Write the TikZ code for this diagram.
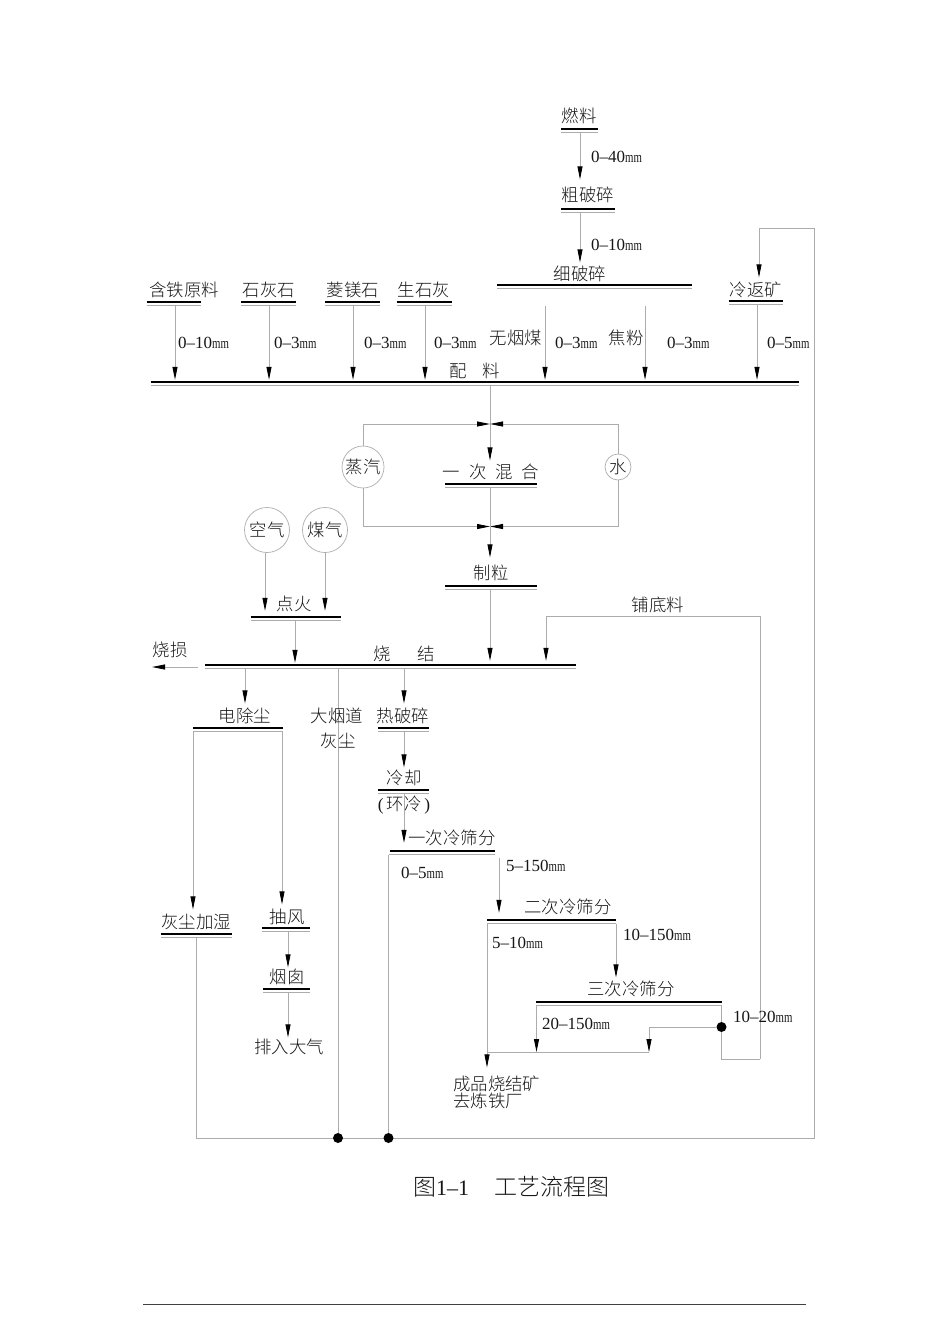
\documentclass[tikz,border=0pt]{standalone}
\usepackage{fontspec}
\usepackage{graphicx}
\usetikzlibrary{arrows.meta,calc}
\setmainfont{Liberation Serif}
\newfontfamily\cjk{Noto Sans CJK SC Light}
\definecolor{linegray}{HTML}{ACACAC}
\definecolor{inkc}{HTML}{161616}
\pgfdeclarelayer{wires}
\pgfsetlayers{wires,main}
\tikzset{
  lab/.style={inner sep=0pt,yshift=-.6pt,text=inkc,font=\cjk\fontsize{17.4}{18}\selectfont,text height=14pt,text depth=2pt,align=center},
  size/.style={inner sep=0pt,anchor=west,text=inkc,font=\fontsize{17}{18}\selectfont,text height=12pt,text depth=0pt},
  barbox/.style={inner sep=0pt,minimum height=3.5pt,rectangle},
  barthick/.style={draw=black,line width=2.4pt},
  barthin/.style={draw=linegray,line width=.9pt},
  conn/.style={draw=linegray,line width=.8pt,-{Stealth[black,length=13pt,width=5pt,inset=0pt]},shorten >=2pt},
  wire/.style={draw=linegray,line width=.8pt},
  src/.style={circle,draw=linegray,line width=.7pt,inner sep=0pt,text=inkc,font=\cjk\fontsize{17.4}{18}\selectfont},
  dot/.style={circle,fill=black,inner sep=0pt,minimum size=10pt},
}
\newcommand\barnode[4]{%
  \node[barbox,minimum width={#3-#2}] (#1) at ({(#2+#3)/2},#4+1.75) {};
  \draw[barthick] (#1.north west) -- (#1.north east);
  \draw[barthin] (#1.south west) -- (#1.south east);
}
\newcommand\mmt[1]{#1\scalebox{.72}[1]{\fontsize{15}{16}\selectfont mm}}
\begin{document}
\begin{tikzpicture}[x=1pt,y=-1pt]
\useasboundingbox (0,0) rectangle (950,1344);
% source labels and bars
\node[lab] (lfuel) at (579,116) {燃料};
\barnode{bfuel}{561}{598}{129}
\node[size] (s040) at (591,156) {\mmt{0–40}};
\node[lab] (lcoarse) at (588,195) {粗破碎};
\barnode{bcoarse}{561}{615}{209}
\node[size] (s010b) at (591,244) {\mmt{0–10}};
\node[lab] (lfine) at (580,274) {细破碎};
\barnode{bfine}{497}{692}{285}
\node[lab] (lret) at (756,290) {冷返矿};
\barnode{bret}{729}{783}{301}
\node[lab] (liron) at (184,290) {含铁原料};
\barnode{biron}{147}{201}{302}
\node[lab] (llime) at (269,290) {石灰石};
\barnode{blime}{241}{296}{302}
\node[lab] (lmag) at (353,290) {菱镁石};
\barnode{bmag}{325}{380}{302}
\node[lab] (lquick) at (424,290) {生石灰};
\barnode{bquick}{397}{452}{302}
\node[lab] (lanth) at (516,338) {无烟煤};
\node[lab] (lcoke) at (626,338) {焦粉};
\node[size] (s010) at (178,342) {\mmt{0–10}};
\node[size] (s03a) at (274,342) {\mmt{0–3}};
\node[size] (s03b) at (364,342) {\mmt{0–3}};
\node[size] (s03c) at (434,342) {\mmt{0–3}};
\node[size] (s03d) at (555,342) {\mmt{0–3}};
\node[size] (s03e) at (667,342) {\mmt{0–3}};
\node[size] (s05) at (767,342) {\mmt{0–5}};
\node[lab] (lmix) at (475,371) {配\hspace{16pt}料};
\barnode{bmain}{151}{799}{382}
\coordinate (anthtop) at (545,306);
\coordinate (coketop) at (645,306);
% first mixing
\node[src,minimum size=42pt] (steam) at (363,467) {蒸汽};
\node[src,minimum size=26pt] (water) at (618,467) {水};
\node[lab] (lmix1) at (491,472) {一\hspace{9pt}次\hspace{9pt}混\hspace{9pt}合};
\barnode{bmix1}{445}{537}{484}
\node[lab] (lgran) at (491,573) {制粒};
\barnode{bgran}{445}{537}{586}
\coordinate (j1) at (490,424);
\coordinate (j2) at (490,526.5);
% ignition
\node[src,minimum size=45pt] (air) at (267,530) {空气};
\node[src,minimum size=45pt] (gas) at (325,530) {煤气};
\node[lab] (lign) at (294,604) {点火};
\barnode{bign}{251}{341}{617}
\node[lab] (lbed) at (658,605) {铺底料};
\node[lab] (lsint) at (404,654) {烧\hspace{26pt}结};
\barnode{bsint}{205}{576}{665}
\node[lab] (lloss) at (170,650) {烧损};
\coordinate (lossstart) at (198,667);
\coordinate (lossend) at (152,667);
% lower left
\node[lab] (lesp) at (245,716) {电除尘};
\barnode{besp}{193}{283}{728}
\node[lab] (lflue) at (337,716) {大烟道};
\node[lab] (lflue2) at (338,741) {灰尘};
\node[lab] (lhot) at (403,716) {热破碎};
\barnode{bhot}{378}{429}{728}
\node[lab] (lcool) at (404,778) {冷却};
\barnode{bcool}{378}{429}{790}
\node[lab] (lring) at (404,804) {{\rmfamily(}\hspace{3pt}环冷\hspace{3pt}{\rmfamily)}};
\node[lab] (ls1) at (452,838) {一次冷筛分};
\barnode{bs1}{390}{495}{851}
\node[size] (s05b) at (401,872) {\mmt{0–5}};
\node[size] (s5150) at (506,865) {\mmt{5–150}};
\coordinate (s1right) at (499,858);
\node[lab] (ls2) at (568,907) {二次冷筛分};
\barnode{bs2}{487}{616}{920}
\node[size] (s510) at (492,942) {\mmt{5–10}};
\node[size] (s10150) at (623,934) {\mmt{10–150}};
\node[lab] (ls3) at (631,989) {三次冷筛分};
\barnode{bs3}{536}{722}{1002}
\node[size] (s20150) at (542,1023) {\mmt{20–150}};
\node[size] (s1020) at (733,1016) {\mmt{10–20}};
\node[lab] (lwet) at (196,922) {灰尘加湿};
\barnode{bwet}{161}{232}{934}
\node[lab] (lfan) at (287,917) {抽风};
\barnode{bfan}{262}{310}{928}
\node[lab] (lchim) at (287,977) {烟囱};
\barnode{bchim}{263}{310}{989}
\node[lab] (lair) at (289,1047) {排入大气};
\node[lab,anchor=west] (lprod1) at (453,1084) {成品烧结矿};
\node[lab,anchor=west] (lprod2) at (453,1101) {去炼铁厂};
\node[dot] (d1) at (338,1138) {};
\node[dot] (d2) at (388.5,1138) {};
\node[dot] (d3) at (721.5,1027) {};
\coordinate (jl) at (487,1052);
\coordinate (jr) at (649,1052);
\coordinate (corner1) at (814,1138);
\coordinate (corner2) at (814,228);
\coordinate (corner3) at (196,1138);
\coordinate (corner4) at (721.5,1059);
\coordinate (corner5) at (760,1059);
\coordinate (corner6) at (760,616);
\begin{pgfonlayer}{wires}
% upper connectors
\draw[conn,shorten >=8pt] (580,0 |- bfuel.south) -- (580,0 |- lcoarse.north);
\draw[conn,shorten >=4pt] (580,0 |- bcoarse.south) -- (580,0 |- lfine.north);
\draw[conn,shorten >=5pt] (corner2) -- (759,228) -- (759,0 |- lret.north);
\draw[conn] (175,0 |- biron.south) -- (175,0 |- bmain.north);
\draw[conn] (269,0 |- blime.south) -- (269,0 |- bmain.north);
\draw[conn] (353,0 |- bmag.south) -- (353,0 |- bmain.north);
\draw[conn] (425,0 |- bquick.south) -- (425,0 |- bmain.north);
\draw[conn] (anthtop) -- (545,0 |- bmain.north);
\draw[conn] (coketop) -- (645,0 |- bmain.north);
\draw[conn] (757,0 |- bret.south) -- (757,0 |- bmain.north);
% mixing
\draw[conn,shorten >=4pt] (490,0 |- bmain.south) -- (490,0 |- lmix1.north);
\draw[conn,shorten >=0pt] (steam.north) |- (j1);
\draw[conn,shorten >=0pt] (water.north) |- (j1);
\draw[conn,shorten >=0pt] (steam.south) |- (j2);
\draw[conn,shorten >=0pt] (water.south) |- (j2);
\draw[conn,shorten >=8pt] (490,0 |- bmix1.south) -- (490,0 |- lgran.north);
\draw[conn,shorten >=4pt] (490,0 |- bgran.south) -- (490,0 |- bsint.north);
% ignition
\draw[conn,shorten >=6pt] (265,0 |- air.south) -- (265,0 |- bign.north);
\draw[conn,shorten >=6pt] (325,0 |- gas.south) -- (325,0 |- bign.north);
\draw[conn] (295,0 |- bign.south) -- (295,0 |- bsint.north);
\draw[conn,shorten >=4pt] (corner5) -- (corner6) -- (546,616) -- (546,0 |- bsint.north);
\draw[conn,shorten >=0pt] (lossstart) -- (lossend);
% after sinter
\draw[conn,shorten >=5pt] (245,0 |- bsint.south) -- (245,0 |- lesp.north);
\draw[conn,shorten >=5pt] (404,0 |- bsint.south) -- (404,0 |- lhot.north);
\draw[conn,shorten >=3pt] (404,0 |- bhot.south) -- (404,0 |- lcool.north);
\draw[conn,shorten >=8pt] (404,0 |- bcool.south) -- (404,0 |- bs1.north);
\draw[conn,shorten >=5pt] (193,0 |- besp.south) -- (193,0 |- lwet.north);
\draw[conn,shorten >=5pt] (282,0 |- besp.south) -- (282,0 |- lfan.north);
\draw[conn,shorten >=2pt] (288,0 |- bfan.south) -- (288,0 |- lchim.north);
\draw[conn,shorten >=2pt] (288,0 |- bchim.south) -- (288,0 |- lair.north);
\draw[wire] (338,0 |- bsint.south) -- (d1);
\draw[wire] (388.5,0 |- bs1.south) -- (d2) ;
\draw[wire] (bs1.south west) -- (388.5,0 |- bs1.south);
% screens
\draw[conn,shorten >=7pt] (s1right) -- (s1right |- bs2.north);
\draw[conn,shorten >=4pt] (616,0 |- bs2.south) -- (616,0 |- ls3.north);
\draw[wire] (487,0 |- bs2.south) -- (jl);
\draw[conn,shorten >=9pt] (jl) -- (487,0 |- lprod1.north);
\draw[conn,shorten >=0pt] (536.5,0 |- bs3.south) -- (536.5,0 |- jl);
\draw[wire] (jl) -- (jr);
\draw[conn,shorten >=0pt] (d3) -| (jr);
\draw[wire] (721.5,0 |- bs3.south) -- (corner4) -- (corner5);
\draw[wire] (196,0 |- bwet.south) -- (corner3) -- (corner1) -- (corner2);
\end{pgfonlayer}
% caption and rule
\node[inner sep=0pt,anchor=west,text=inkc] (cap) at (413,1187) {\cjk\fontsize{23}{26}\selectfont 图{\rmfamily\fontsize{22}{26}\selectfont 1–1}};
\node[inner sep=0pt,anchor=west,text=inkc] (cap2) at (494,1187) {\cjk\fontsize{23}{26}\selectfont 工艺流程图};
\coordinate (rl) at (143,1304);
\coordinate (rr) at (806,1304);
\draw[draw=black!75,line width=.8pt] (rl) -- (rr);
\end{tikzpicture}
\end{document}
